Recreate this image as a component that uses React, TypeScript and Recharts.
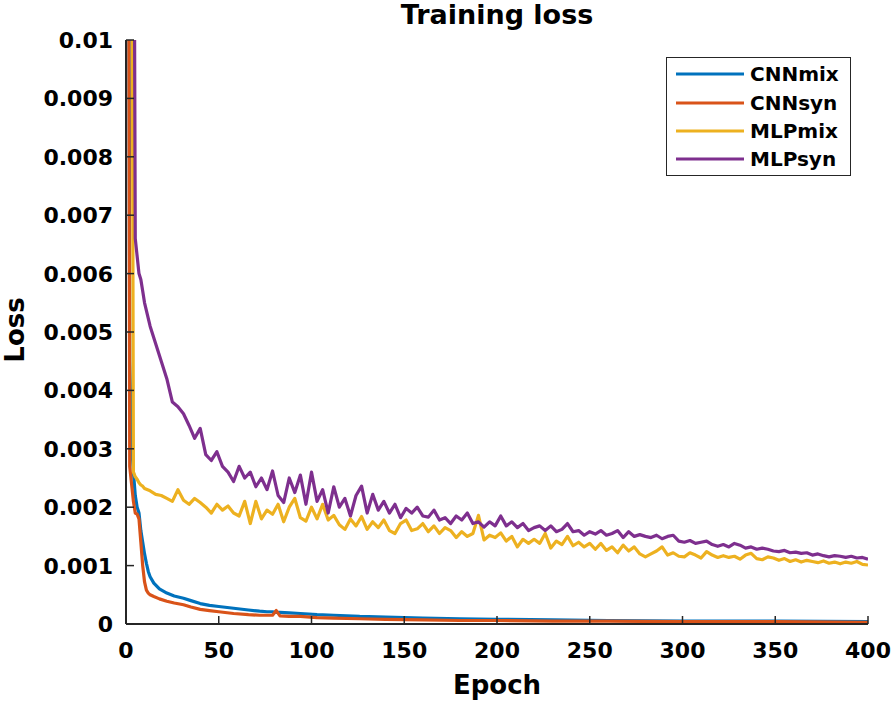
import React from 'react';
import { LineChart, Line, XAxis, YAxis, Legend } from 'recharts';

const FONT = '"DejaVu Sans", Verdana, sans-serif';
const AXIS = '#262626';

// legend order = draw order
const seriesNames = ['CNNmix', 'CNNsyn', 'MLPmix', 'MLPsyn'];
const seriesColors = ['#0072BD', '#D95319', '#EDB120', '#7E2F8E'];

const xTicks = [0, 50, 100, 150, 200, 250, 300, 350, 400];
const yTicks = [0, 0.001, 0.002, 0.003, 0.004, 0.005, 0.006, 0.007, 0.008, 0.009, 0.01];
const yTickLabels = ['0', '0.001', '0.002', '0.003', '0.004', '0.005', '0.006', '0.007', '0.008', '0.009', '0.01'];

// CNN curves are smooth, sampled more sparsely
const cnnEpochs = [
  1, 2, 3, 4, 5, 6, 7, 8, 9, 10, 11, 12, 13,
  15, 18, 22, 26, 31, 35, 40, 45, 50,
  58, 66, 72, 76, 79, 81, 83, 88, 94,
  103, 112, 126, 140, 160, 180, 200,
  230, 260, 300, 350, 400,
];
const cnnMixLoss = [
  0.02, 0.0045, 0.0031, 0.0026, 0.0022, 0.002, 0.0019, 0.0016, 0.0014, 0.0012, 0.00104, 0.0009, 0.00081,
  0.0007, 0.0006, 0.00053, 0.00048, 0.00044, 0.0004, 0.00035, 0.00032, 0.0003,
  0.00027, 0.00024, 0.00022, 0.00021, 0.00021, 0.0002, 0.0002, 0.00019, 0.00018,
  0.00016, 0.00015, 0.00013, 0.00012, 0.0001, 0.00009, 0.00008,
  0.00007, 0.00006, 0.00005, 0.00005, 0.00004,
];
const cnnSynLoss = [
  0.02, 0.0027, 0.0024, 0.0021, 0.0019, 0.00188, 0.0018, 0.0014, 0.001, 0.00072, 0.00058, 0.00053, 0.0005,
  0.00047, 0.00043, 0.00039, 0.00036, 0.00033, 0.00029, 0.00025, 0.00023, 0.00021,
  0.00018, 0.00016, 0.00015, 0.00015, 0.00015, 0.00023, 0.00014, 0.00013, 0.00013,
  0.00011, 0.0001, 0.00009, 0.00008, 0.00007, 0.00006, 0.00006,
  0.00005, 0.00005, 0.00004, 0.00004, 0.00003,
];

// MLP curves are noisy, sampled every 3 epochs after the drop
const mlpEpochs = [
  1, 2, 3, 4, 5, 6, 7, 8, 9, 10,
  13, 16, 19, 22, 25, 28, 31, 34, 37, 40,
  43, 46, 49, 52, 55, 58, 61, 64, 67, 70,
  73, 76, 79, 82, 85, 88, 91, 94, 97, 100,
  103, 106, 109, 112, 115, 118, 121, 124, 127, 130,
  133, 136, 139, 142, 145, 148, 151, 154, 157, 160,
  163, 166, 169, 172, 175, 178, 181, 184, 187, 190,
  193, 196, 199, 202, 205, 208, 211, 214, 217, 220,
  223, 226, 229, 232, 235, 238, 241, 244, 247, 250,
  253, 256, 259, 262, 265, 268, 271, 274, 277, 280,
  283, 286, 289, 292, 295, 298, 301, 304, 307, 310,
  313, 316, 319, 322, 325, 328, 331, 334, 337, 340,
  343, 346, 349, 352, 355, 358, 361, 364, 367, 370,
  373, 376, 379, 382, 385, 388, 391, 394, 397, 400,
];
const mlpMixLoss = [
  0.04, 0.03, 0.016, 0.0026, 0.00252, 0.00248, 0.00242, 0.00238, 0.00236, 0.00232,
  0.00228, 0.00222, 0.0022, 0.00215, 0.0021, 0.0023, 0.00212, 0.00205, 0.00215, 0.00208,
  0.002, 0.0019, 0.00205, 0.00195, 0.00202, 0.0019, 0.00185, 0.0021, 0.00172, 0.0021,
  0.0018, 0.00195, 0.00188, 0.00205, 0.00175, 0.002, 0.00215, 0.00182, 0.00176, 0.002,
  0.0018, 0.00205, 0.00178, 0.00186, 0.0017, 0.00162, 0.0018, 0.00168, 0.00184, 0.00162,
  0.00175, 0.00165, 0.00178, 0.0016, 0.00155, 0.00172, 0.00178, 0.0016, 0.00163, 0.00172,
  0.00158, 0.00168, 0.00155, 0.00165, 0.0016, 0.00148, 0.00158, 0.0015, 0.00155, 0.00186,
  0.00144, 0.00152, 0.00148, 0.00156, 0.00142, 0.0015, 0.00132, 0.00145, 0.00138, 0.00145,
  0.00138, 0.00155, 0.0013, 0.00142, 0.00136, 0.0015, 0.00134, 0.0014, 0.00132, 0.00138,
  0.00128, 0.00138, 0.00126, 0.00132, 0.00122, 0.00135, 0.00125, 0.00132, 0.0012, 0.00115,
  0.0012, 0.00125, 0.00132, 0.00118, 0.00122, 0.00116, 0.00115, 0.00122, 0.00118, 0.00113,
  0.00124, 0.00118, 0.00114, 0.00117, 0.00114, 0.00116, 0.00111, 0.00118, 0.00121, 0.00112,
  0.0011, 0.00115, 0.00113, 0.00109, 0.00112, 0.00107, 0.0011, 0.00106, 0.00109, 0.00107,
  0.00105, 0.00108, 0.00104, 0.00106, 0.00103, 0.00106, 0.00104, 0.00107, 0.00102, 0.00101,
];
const mlpSynLoss = [
  0.04, 0.03, 0.022, 0.016, 0.0066, 0.0063, 0.006, 0.0059, 0.0057, 0.0055,
  0.0051, 0.0048, 0.0045, 0.0042, 0.0038, 0.00372, 0.0036, 0.0034, 0.00318, 0.00335,
  0.0029, 0.0028, 0.00295, 0.0027, 0.0026, 0.00244, 0.0027, 0.0025, 0.0026, 0.00235,
  0.0025, 0.0023, 0.00262, 0.0022, 0.00208, 0.0025, 0.00225, 0.00255, 0.00205, 0.0026,
  0.0021, 0.0023, 0.0019, 0.00235, 0.002, 0.00215, 0.00185, 0.0022, 0.00236, 0.0019,
  0.00222, 0.00195, 0.0021, 0.0019, 0.00205, 0.00182, 0.00198, 0.0019, 0.002, 0.00185,
  0.00183, 0.00195, 0.00178, 0.00182, 0.00172, 0.00185, 0.00178, 0.0019, 0.00172, 0.00175,
  0.00166, 0.00175, 0.00168, 0.00185, 0.00168, 0.00175, 0.00165, 0.00172, 0.0016, 0.00165,
  0.00168, 0.0016, 0.00168, 0.00158, 0.00162, 0.00172, 0.00158, 0.0016, 0.00152, 0.00158,
  0.00154, 0.0016, 0.00152, 0.00155, 0.0016, 0.00148, 0.00158, 0.0015, 0.00153, 0.0015,
  0.00148, 0.00152, 0.00146, 0.0015, 0.00152, 0.00142, 0.0014, 0.00143, 0.00138, 0.0014,
  0.00142, 0.00136, 0.00133, 0.00136, 0.00132, 0.00138, 0.00135, 0.0013, 0.00132, 0.00128,
  0.0013, 0.00128, 0.00125, 0.00124, 0.00126, 0.00122, 0.00123, 0.00121, 0.00122, 0.00118,
  0.0012, 0.00117, 0.00115, 0.00117, 0.00116, 0.00114, 0.00116, 0.00113, 0.00114, 0.00111,
];

const toRows = (epochs: number[], loss: number[]) => epochs.map((e, i) => ({ epoch: e, loss: loss[i] }));

const seriesData = [
  toRows(cnnEpochs, cnnMixLoss),
  toRows(cnnEpochs, cnnSynLoss),
  toRows(mlpEpochs, mlpMixLoss),
  toRows(mlpEpochs, mlpSynLoss),
];

const labelText = { fontFamily: FONT, fontWeight: 'bold', fill: '#000' } as const;

const LeftTick = (p: any) => {
  const i = yTicks.indexOf(p.payload.value);
  return (
    <g>
      <line x1={p.x} x2={p.x + 8} y1={p.y} y2={p.y} stroke={AXIS} strokeWidth={1.5} />
      <text x={p.x - 13} y={p.y + 8} textAnchor="end" fontSize={22} {...labelText}>
        {i >= 0 ? yTickLabels[i] : p.payload.value}
      </text>
    </g>
  );
};

const RightTick = (p: any) => (
  <line x1={p.x} x2={p.x - 8} y1={p.y} y2={p.y} stroke={AXIS} strokeWidth={1.5} />
);

const BottomTick = (p: any) => (
  <g>
    <line x1={p.x} x2={p.x} y1={p.y} y2={p.y - 8} stroke={AXIS} strokeWidth={1.5} />
    <text x={p.x} y={p.y + 34} textAnchor="middle" fontSize={22} {...labelText}>
      {p.payload.value}
    </text>
  </g>
);

const TopTick = (p: any) => (
  <line x1={p.x} x2={p.x} y1={p.y} y2={p.y + 8} stroke={AXIS} strokeWidth={1.5} />
);

const LegendBox = ({ payload }: any) => {
  const items = seriesNames
    .map((n) => (payload || []).find((p: any) => p.value === n))
    .filter(Boolean);
  return (
    <div
      style={{
        border: `1px solid ${AXIS}`,
        background: '#fff',
        boxSizing: 'border-box',
        width: 185,
        height: 119,
        padding: '2px 0 0 9px',
      }}
    >
      {items.map((it: any) => (
        <div key={it.value} style={{ display: 'flex', alignItems: 'center', height: 28.4 }}>
          <svg width={68} height={6} style={{ display: 'block' }}>
            <line x1={0} x2={68} y1={3} y2={3} stroke={it.color} strokeWidth={3.2} />
          </svg>
          <span style={{ marginLeft: 6, fontFamily: FONT, fontWeight: 'bold', fontSize: 20, color: '#000', lineHeight: 1 }}>
            {it.value}
          </span>
        </div>
      ))}
    </div>
  );
};

export default function App() {
  return (
    <div style={{ position: 'absolute', left: 0, top: 0, width: 896, height: 702, background: '#fff', fontFamily: FONT }}>
      <div
        style={{
          position: 'absolute',
          left: 126,
          top: 0,
          width: 742,
          textAlign: 'center',
          fontSize: 27,
          lineHeight: '30px',
          fontWeight: 'bold',
          color: '#000',
          zIndex: 1,
        }}
      >
        Training loss
      </div>
      <LineChart width={896} height={702} margin={{ top: 40, right: 28, bottom: 0, left: 0 }}>
        <XAxis
          xAxisId={0}
          dataKey="epoch"
          type="number"
          domain={[0, 400]}
          ticks={xTicks}
          allowDataOverflow
          height={78}
          tickSize={0}
          tickMargin={0}
          tickLine={false}
          tick={BottomTick}
          axisLine={{ stroke: AXIS, strokeWidth: 2 }}
          label={(p: any) => (
            <text x={p.viewBox.x + p.viewBox.width / 2} y={694} textAnchor="middle" fontSize={26} {...labelText}>
              Epoch
            </text>
          )}
        />
        <XAxis
          xAxisId="top"
          orientation="top"
          type="number"
          domain={[0, 400]}
          ticks={xTicks}
          allowDataOverflow
          height={0}
          tickSize={0}
          tickMargin={0}
          tickLine={false}
          tick={TopTick}
          axisLine={{ stroke: AXIS, strokeWidth: 2 }}
        />
        <YAxis
          yAxisId={0}
          type="number"
          domain={[0, 0.01]}
          ticks={yTicks}
          allowDataOverflow
          width={126}
          tickSize={0}
          tickMargin={0}
          tickLine={false}
          tick={LeftTick}
          axisLine={{ stroke: AXIS, strokeWidth: 2 }}
          label={(p: any) => {
            const cy = p.viewBox.y + p.viewBox.height / 2 - 2;
            return (
              <text x={24} y={cy} transform={`rotate(-90 24 ${cy})`} textAnchor="middle" fontSize={26} {...labelText}>
                Loss
              </text>
            );
          }}
        />
        <YAxis
          yAxisId="right"
          orientation="right"
          type="number"
          domain={[0, 0.01]}
          ticks={yTicks}
          allowDataOverflow
          width={0}
          tickSize={0}
          tickMargin={0}
          tickLine={false}
          tick={RightTick}
          axisLine={{ stroke: AXIS, strokeWidth: 2 }}
        />
        <Legend
          layout="horizontal"
          verticalAlign="middle"
          align="center"
          content={LegendBox}
          wrapperStyle={{ position: 'absolute', left: 666, top: 57, width: 185, height: 119 }}
        />
        {seriesNames.map((name, i) => (
          <Line
            key={name}
            name={name}
            data={seriesData[i]}
            dataKey="loss"
            type="linear"
            stroke={seriesColors[i]}
            strokeWidth={3.2}
            strokeLinejoin="round"
            dot={false}
            activeDot={false}
            legendType="line"
            isAnimationActive={false}
          />
        ))}
      </LineChart>
    </div>
  );
}
